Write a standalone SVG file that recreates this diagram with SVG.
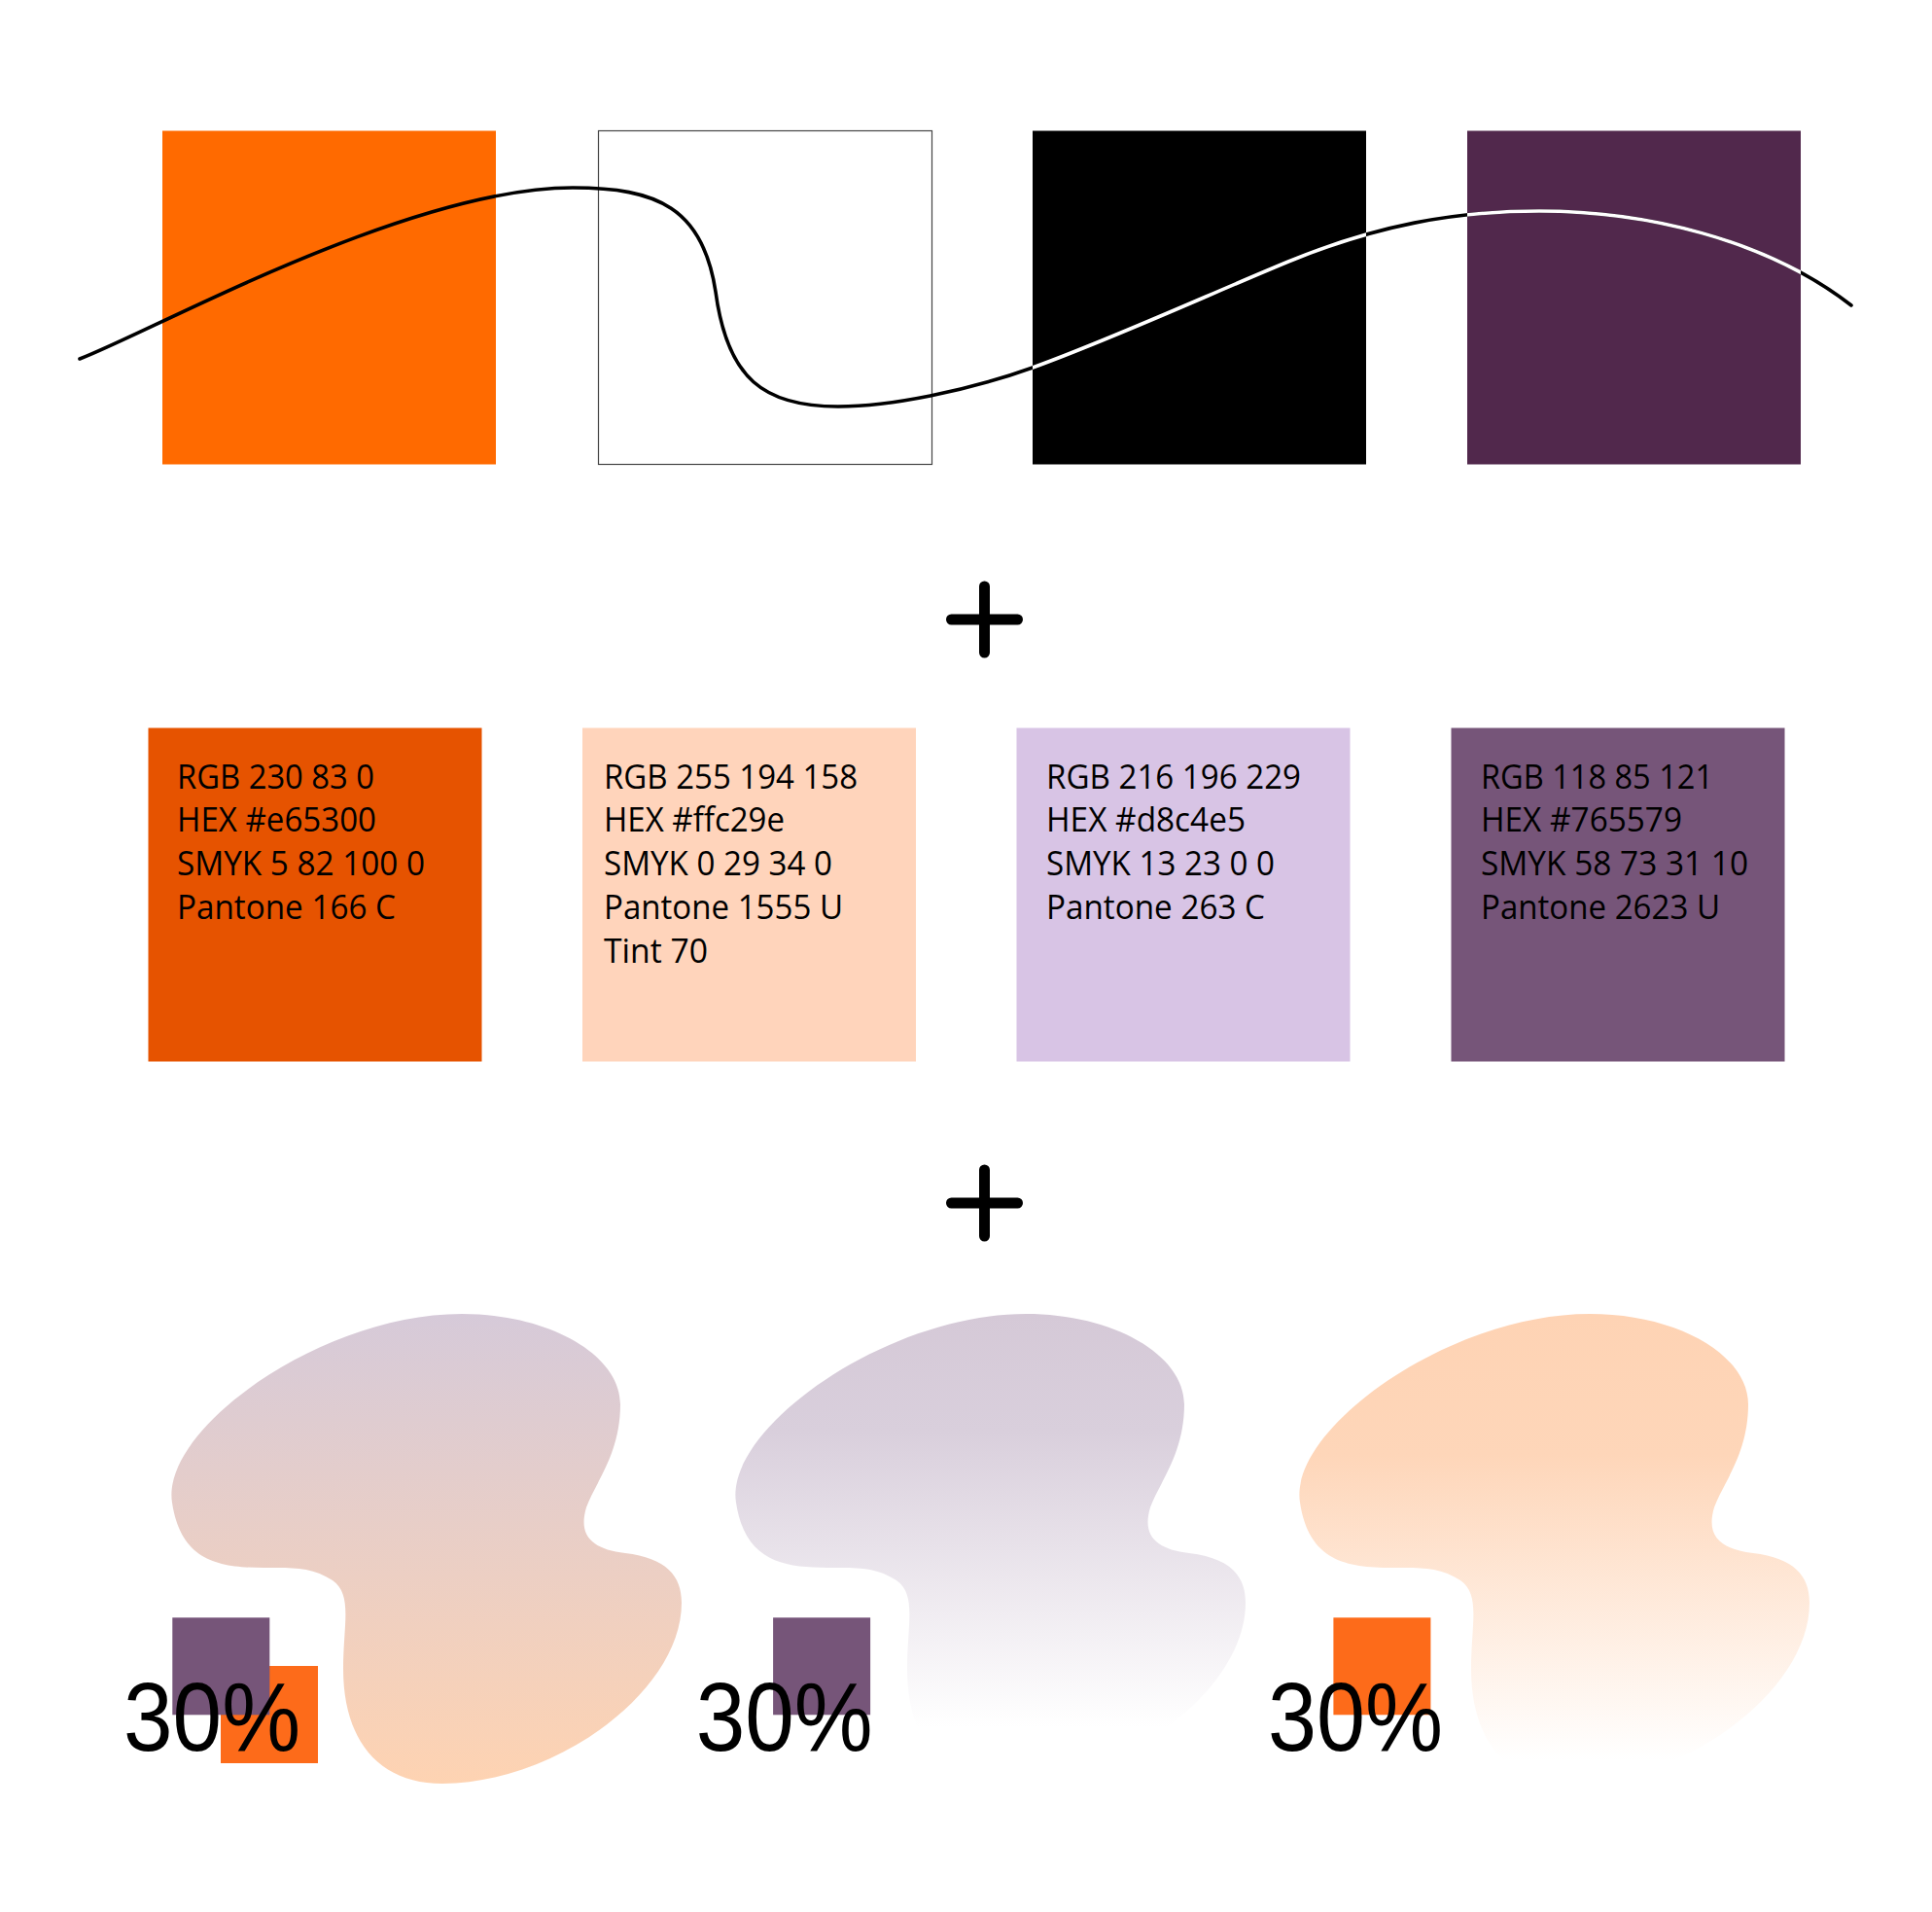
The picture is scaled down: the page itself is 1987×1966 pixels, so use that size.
<svg xmlns="http://www.w3.org/2000/svg" width="1987" height="1966" viewBox="0 0 1987 1966">
<style>
.info{font-family:"Open Sans","Liberation Sans",sans-serif;font-size:34px;fill:#000}
.pct{font-family:"Liberation Sans",Arial,sans-serif;font-size:100px;fill:#000}
.plus{stroke:#000;stroke-width:11;stroke-linecap:round;fill:none}
.wave{fill:none;stroke-width:3.6;stroke-linecap:round}
</style>
<defs>
<linearGradient id="g1" gradientUnits="userSpaceOnUse" x1="0" y1="1351" x2="0" y2="1834">
<stop offset="0" stop-color="#d6cad9"/>
<stop offset="1" stop-color="#fed3b2"/>
</linearGradient>
<linearGradient id="g2" gradientUnits="userSpaceOnUse" x1="0" y1="1351" x2="0" y2="1834">
<stop offset="0" stop-color="#d5c9d7"/>
<stop offset="0.25" stop-color="#d9cfdc"/>
<stop offset="0.88" stop-color="#ffffff"/>
</linearGradient>
<linearGradient id="g3" gradientUnits="userSpaceOnUse" x1="0" y1="1351" x2="0" y2="1834">
<stop offset="0" stop-color="#fed3b4"/>
<stop offset="0.3" stop-color="#fed6b9"/>
<stop offset="0.95" stop-color="#ffffff"/>
</linearGradient>
<path id="blob" d="M475,1351 C565,1351 638,1393 638,1444 C638,1495 612,1525 603,1550 C594,1580 610,1593 643,1597 C685,1602 701,1620 701,1648 C701,1740 570,1834 455,1834 C390,1834 353,1790 353,1716 C353,1670 363,1640 342,1625 C320,1610 295,1612 271,1612 C225,1612 186,1605 177,1545 C165,1470 330,1351 475,1351 Z"/>
<path id="wavepath" d="M82,369 C158,340 420,193 589,193 C676,193 723,214 736,300 C748,390 786,418 862,418 C915,418 995,402 1062,378 C1145,348 1245,302 1325,269 C1415,232 1495,217 1583,217 C1690,217 1815,245 1904,314"/>
<clipPath id="darkclip">
<rect x="1062" y="134.5" width="343" height="343"/>
<rect x="1509" y="134.5" width="343" height="343"/>
</clipPath>
</defs>
<rect width="1987" height="1966" fill="#ffffff"/>

<g id="top-orange"><rect x="167" y="134.5" width="343" height="343" fill="#ff6a00"/></g>
<g id="top-white"><rect x="615.5" y="134.5" width="343" height="343" fill="#ffffff" stroke="#444" stroke-width="1.2"/></g>
<g id="top-black"><rect x="1062" y="134.5" width="343" height="343" fill="#000000"/></g>
<g id="top-purple"><rect x="1509" y="134.5" width="343" height="343" fill="#51284c"/></g>

<g id="wave">
<use href="#wavepath" class="wave" stroke="#000"/>
<use href="#wavepath" class="wave" stroke="#fff" clip-path="url(#darkclip)"/>
</g>

<g id="plus1"><path class="plus" d="M1012.5,603 V671 M978.5,637 H1046.5"/></g>

<g id="swatch-orange">
<rect x="152.5" y="748.5" width="343" height="343" fill="#e65300"/>
<text class="info" x="182" y="810.5" textLength="203" lengthAdjust="spacingAndGlyphs">RGB 230 83 0</text>
<text class="info" x="182" y="855" textLength="205" lengthAdjust="spacingAndGlyphs">HEX #e65300</text>
<text class="info" x="182" y="900" textLength="255" lengthAdjust="spacingAndGlyphs">SMYK 5 82 100 0</text>
<text class="info" x="182" y="944.5" textLength="225" lengthAdjust="spacingAndGlyphs">Pantone 166 C</text>
</g>
<g id="swatch-peach">
<rect x="599" y="748.5" width="343" height="343" fill="#ffd4bb"/>
<text class="info" x="621" y="810.5" textLength="261" lengthAdjust="spacingAndGlyphs">RGB 255 194 158</text>
<text class="info" x="621" y="855" textLength="186" lengthAdjust="spacingAndGlyphs">HEX #ffc29e</text>
<text class="info" x="621" y="900" textLength="235" lengthAdjust="spacingAndGlyphs">SMYK 0 29 34 0</text>
<text class="info" x="621" y="944.5" textLength="246" lengthAdjust="spacingAndGlyphs">Pantone 1555 U</text>
<text class="info" x="621" y="989.5" textLength="107" lengthAdjust="spacingAndGlyphs">Tint 70</text>
</g>
<g id="swatch-lavender">
<rect x="1045.5" y="748.5" width="343" height="343" fill="#d8c4e5"/>
<text class="info" x="1076" y="810.5" textLength="262" lengthAdjust="spacingAndGlyphs">RGB 216 196 229</text>
<text class="info" x="1076" y="855" textLength="205" lengthAdjust="spacingAndGlyphs">HEX #d8c4e5</text>
<text class="info" x="1076" y="900" textLength="235" lengthAdjust="spacingAndGlyphs">SMYK 13 23 0 0</text>
<text class="info" x="1076" y="944.5" textLength="225" lengthAdjust="spacingAndGlyphs">Pantone 263 C</text>
</g>
<g id="swatch-purple">
<rect x="1492.5" y="748.5" width="343" height="343" fill="#765579"/>
<text class="info" x="1523" y="810.5" textLength="239" lengthAdjust="spacingAndGlyphs">RGB 118 85 121</text>
<text class="info" x="1523" y="855" textLength="207" lengthAdjust="spacingAndGlyphs">HEX #765579</text>
<text class="info" x="1523" y="900" textLength="275" lengthAdjust="spacingAndGlyphs">SMYK 58 73 31 10</text>
<text class="info" x="1523" y="944.5" textLength="246" lengthAdjust="spacingAndGlyphs">Pantone 2623 U</text>
</g>

<g id="plus2"><path class="plus" d="M1012.5,1203 V1271 M978.5,1237 H1046.5"/></g>

<g id="blob1">
<use href="#blob" fill="url(#g1)"/>
<rect x="227" y="1713" width="100" height="100" fill="#fd6b1a"/>
<rect x="177.3" y="1663.3" width="100" height="100" fill="#765579"/>
<text class="pct" x="127" y="1800" textLength="182" lengthAdjust="spacingAndGlyphs">30%</text>
</g>
<g id="blob2">
<use href="#blob" fill="url(#g2)" transform="translate(580,0)"/>
<rect x="795.1" y="1663.3" width="100" height="100" fill="#765579"/>
<text class="pct" x="715.7" y="1800" textLength="182" lengthAdjust="spacingAndGlyphs">30%</text>
</g>
<g id="blob3">
<use href="#blob" fill="url(#g3)" transform="translate(1160,0)"/>
<rect x="1371.4" y="1663.3" width="100" height="100" fill="#fd6b1a"/>
<text class="pct" x="1304" y="1800" textLength="180" lengthAdjust="spacingAndGlyphs">30%</text>
</g>
</svg>
